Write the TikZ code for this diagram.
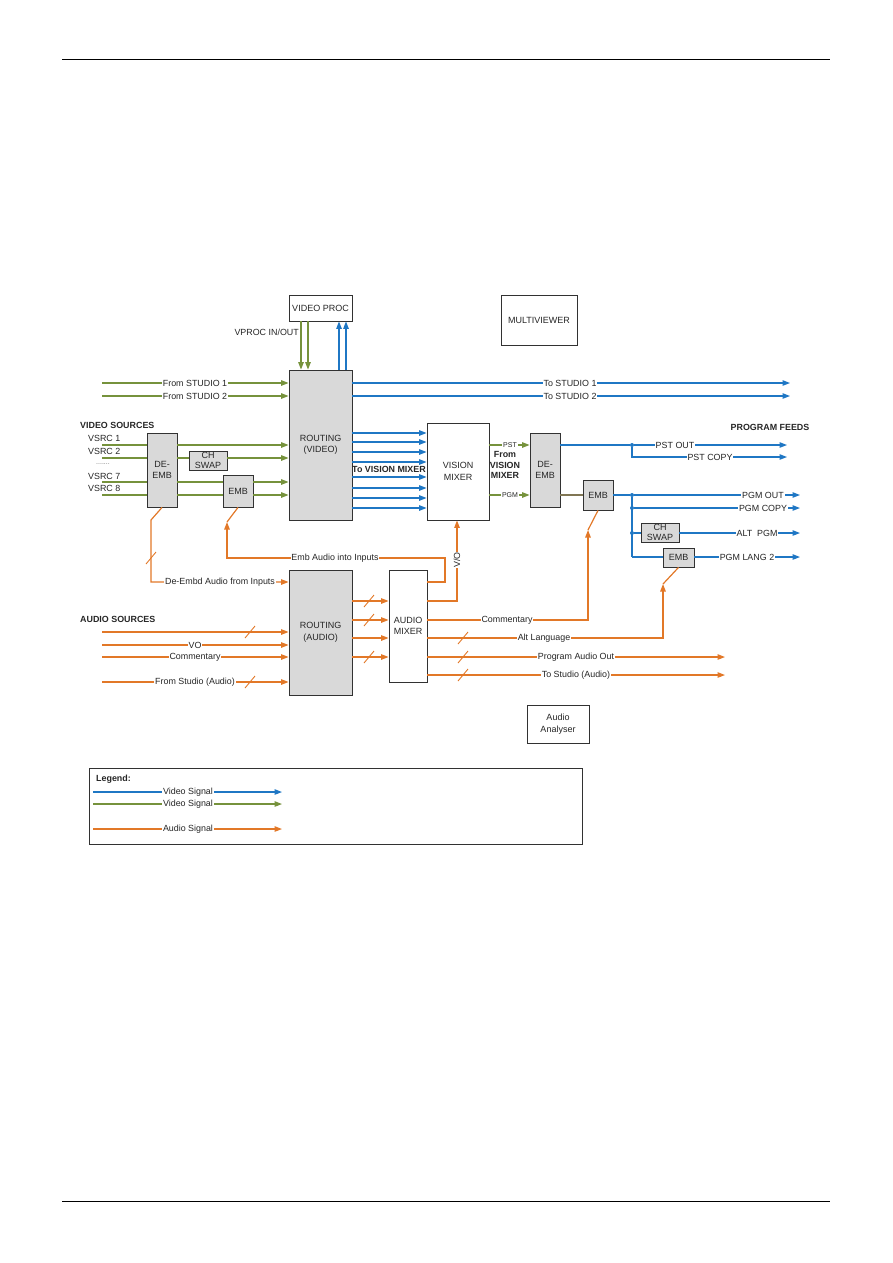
\documentclass[tikz,border=0pt]{standalone}
\usepackage{fontspec}
\setmainfont{Liberation Sans}
\usetikzlibrary{arrows.meta}
\definecolor{vblue}{RGB}{31,119,196}
\definecolor{vgreen}{RGB}{118,146,60}
\definecolor{aorange}{RGB}{226,120,40}
\definecolor{boxgray}{RGB}{217,217,217}
\definecolor{olgray}{RGB}{128,118,84}
\definecolor{boxline}{RGB}{50,50,50}
\newcommand\dfnt{\fontsize{8.9}{11.5}\selectfont}
\newcommand\bfnt{\fontsize{9}{11.5}\selectfont}
\newcommand\dsml{\fontsize{7}{8}\selectfont}
\begin{document}
\begin{tikzpicture}[x=1pt,y=-1pt,
  box/.style={draw=boxline, line width=0.9pt, fill=boxgray, inner sep=0pt, font=\bfnt, align=center, text=black!85},
  wbox/.style={box, fill=white},
  vid/.style={draw=vblue, line width=1.2pt},
  grn/.style={draw=vgreen, line width=1.2pt},
  aud/.style={draw=aorange, line width=1.2pt},
  olv/.style={draw=olgray, line width=1.2pt},
  tip/.style={-{Triangle[length=7.5pt,width=5.5pt]}},
  lab/.style={fill=white, inner sep=0.8pt, font=\dfnt, text=black!85},
  slab/.style={fill=white, inner sep=0.8pt, font=\dsml, text=black!85},
  hdr/.style={font=\dfnt\bfseries, inner sep=0pt, text=black!85},
  ptxt/.style={font=\dfnt, inner sep=0pt, text=black!85},
  jdot/.style={circle, fill=vblue, inner sep=0pt, minimum size=4pt},
  aslash/.pic={\draw[aorange, line width=0.9pt] (-5,6) -- (5,-6);}
]
\useasboundingbox (0,0) rectangle (893,1263);
% page rules
\draw[line width=1pt] (62,60) -- (830,60);
\draw[line width=1pt] (62,1201) -- (830,1201);

% ---------- boxes ----------
\node[wbox, minimum width=63pt, minimum height=26pt] (vproc) at (320.5,308) {VIDEO PROC};
\node[wbox, minimum width=76pt, minimum height=50pt] (mview) at (539,320) {MULTIVIEWER};
\node[box, minimum width=63pt, minimum height=150pt] (rvid) at (320.5,445) {ROUTING\\(VIDEO)};
\node[box, minimum width=30pt, minimum height=74pt] (demb1) at (162,470) {DE-\\EMB};
\node[box, minimum width=38pt, minimum height=19pt, font=\fontsize{9}{10}\selectfont] (chsw1) at (208,460.5) {CH\\SWAP};
\node[box, minimum width=30pt, minimum height=32pt] (emb1) at (238,491) {EMB};
\node[wbox, minimum width=62pt, minimum height=97pt] (vmix) at (458,471.5) {VISION\\MIXER};
\node[box, minimum width=30pt, minimum height=74pt] (demb2) at (545,470) {DE-\\EMB};
\node[box, minimum width=30pt, minimum height=30pt] (emb2) at (598,495) {EMB};
\node[box, minimum width=38pt, minimum height=19pt, font=\fontsize{9}{10}\selectfont] (chsw2) at (660,532.5) {CH\\SWAP};
\node[box, minimum width=31pt, minimum height=19pt] (emb3) at (678.5,557.5) {EMB};
\node[box, minimum width=63pt, minimum height=125pt] (raud) at (320.5,632.5) {ROUTING\\(AUDIO)};
\node[wbox, minimum width=38pt, minimum height=112pt] (amix) at (408,626) {AUDIO\\MIXER};
\node[wbox, minimum width=62pt, minimum height=38pt] (aan) at (558,724) {Audio\\Analyser};

% ---------- video proc ----------
\coordinate (vp1) at ([xshift=-19.5pt]vproc.south);
\coordinate (vp2) at ([xshift=-12.5pt]vproc.south);
\coordinate (vp3) at ([xshift=18.5pt]rvid.north);
\coordinate (vp4) at ([xshift=25.5pt]rvid.north);
\draw[grn,tip] (vp1) -- (vp1 |- rvid.north);
\draw[grn,tip] (vp2) -- (vp2 |- rvid.north);
\draw[vid,tip] (vp3) -- (vp3 |- vproc.south);
\draw[vid,tip] (vp4) -- (vp4 |- vproc.south);
\node[ptxt, anchor=east] at (299,332) {VPROC IN/OUT};

% ---------- studio in/out ----------
\coordinate (fs1) at (102,383);
\coordinate (fs2) at (102,396);
\draw[grn,tip] (fs1) -- (fs1 -| rvid.west);
\draw[grn,tip] (fs2) -- (fs2 -| rvid.west);
\node[lab] at (195,383) {From STUDIO 1};
\node[lab] at (195,396) {From STUDIO 2};
\coordinate (ts1) at (790,383);
\coordinate (ts2) at (790,396);
\draw[vid,tip] (ts1 -| rvid.east) -- (ts1);
\draw[vid,tip] (ts2 -| rvid.east) -- (ts2);
\node[lab] at (570,383) {To STUDIO 1};
\node[lab] at (570,396) {To STUDIO 2};

% ---------- video sources ----------
\node[hdr, anchor=west] at (80,425) {VIDEO SOURCES};
\node[ptxt, anchor=west] at (88,438) {VSRC 1};
\node[ptxt, anchor=west] at (88,451) {VSRC 2};
\node[ptxt, anchor=west, font=\dsml, text=black!55] at (96,464) {.......};
\node[ptxt, anchor=west] at (88,476) {VSRC 7};
\node[ptxt, anchor=west] at (88,488) {VSRC 8};
\coordinate (vs1) at (102,445);
\coordinate (vs2) at (102,458);
\coordinate (vs7) at (102,482);
\coordinate (vs8) at (102,495);
\draw[grn] (vs1) -- (vs1 -| demb1.west);
\draw[grn,tip] (vs1 -| demb1.east) -- (vs1 -| rvid.west);
\draw[grn] (vs2) -- (vs2 -| demb1.west);
\draw[grn] (vs2 -| demb1.east) -- (vs2 -| chsw1.west);
\draw[grn,tip] (vs2 -| chsw1.east) -- (vs2 -| rvid.west);
\draw[grn] (vs7) -- (vs7 -| demb1.west);
\draw[grn] (vs7 -| demb1.east) -- (vs7 -| emb1.west);
\draw[grn,tip] (vs7 -| emb1.east) -- (vs7 -| rvid.west);
\draw[grn] (vs8) -- (vs8 -| demb1.west);
\draw[grn] (vs8 -| demb1.east) -- (vs8 -| emb1.west);
\draw[grn,tip] (vs8 -| emb1.east) -- (vs8 -| rvid.west);

% ---------- routing -> vision mixer ----------
\foreach \yy in {433,442,452,462,477,488,498,508} {
  \coordinate (tmp) at (0,\yy);
  \draw[vid,tip] (tmp -| rvid.east) -- (tmp -| vmix.west);
}
\node[hdr] at (389,469.5) {To VISION MIXER};

% ---------- vision mixer outputs ----------
\coordinate (pst) at (0,445);
\coordinate (pgm) at (0,495);
\draw[grn,tip] (pst -| vmix.east) -- (pst -| demb2.west);
\draw[grn,tip] (pgm -| vmix.east) -- (pgm -| demb2.west);
\node[slab] at (510,445) {PST};
\node[slab] at (510,495) {PGM};
\node[hdr, align=center, font=\fontsize{8.9}{10.5}\selectfont\bfseries] at (505,465) {From\\VISION\\MIXER};
\draw[olv] (pgm -| demb2.east) -- (emb2.west);

% ---------- program feeds ----------
\node[hdr] at (770,427) {PROGRAM FEEDS};
\node[jdot] (j1) at (632,445) {};
\coordinate (po1) at (787,445);
\coordinate (po2) at (787,457);
\draw[vid] (pst -| demb2.east) -- (j1);
\draw[vid,tip] (j1) -- (po1);
\draw[vid,tip] (j1) -- (j1 |- po2) -- (po2);
\node[lab] at (675,445) {PST OUT};
\node[lab] at (710,457) {PST COPY};

\node[jdot] (j2) at (632,495) {};
\node[jdot] (j3) at (632,508) {};
\node[jdot] (j4) at (632,533) {};
\coordinate (j5) at (632,557);
\coordinate (pe1) at (800,495);
\coordinate (pe2) at (800,508);
\coordinate (pe3) at (800,533);
\coordinate (pe4) at (800,557);
\draw[vid] (emb2.east) -- (j2);
\draw[vid,tip] (j2) -- (pe1);
\draw[vid] (j2) -- (j5);
\draw[vid,tip] (j3) -- (pe2);
\draw[vid] (j4) -- (j4 -| chsw2.west);
\draw[vid,tip] (j4 -| chsw2.east) -- (pe3);
\draw[vid] (j5) -- (j5 -| emb3.west);
\draw[vid,tip] (j5 -| emb3.east) -- (pe4);
\node[lab] at (763,495) {PGM OUT};
\node[lab] at (763,508) {PGM COPY};
\node[lab] at (757,533) {ALT\ \ PGM};
\node[lab] at (747,557) {PGM LANG 2};

% ---------- embedded audio at inputs ----------
\coordinate (da1) at (151,520);
\coordinate (da2) at (151,582);
\draw[aud,tip] (demb1.south) -- (da1) -- (da2) -- (da2 -| raud.west);
\pic at (151,558) {aslash};
\node[lab] at (220,582) {De-Embd Audio from Inputs};

\coordinate (ea1) at (445,582);
\coordinate (ea2) at (445,558);
\coordinate (ea3) at (227,558);
\coordinate (ea4) at (227,522);
\draw[aud,tip] (ea1 -| amix.east) -- (ea1) -- (ea2) -- (ea3) -- (ea4);
\draw[aud] (ea4) -- (emb1.south);
\node[lab] at (335,558) {Emb Audio into Inputs};

% ---------- V/O ----------
\coordinate (vo1) at (457,601);
\draw[aud,tip] (vo1 -| amix.east) -- (vo1) -- (vo1 |- vmix.south);
\node[lab, rotate=90] at (457,560) {V/O};

% ---------- audio sources ----------
\node[hdr, anchor=west] at (80,619) {AUDIO SOURCES};
\coordinate (as1) at (102,632);
\coordinate (as2) at (102,645);
\coordinate (as3) at (102,657);
\coordinate (as4) at (102,682);
\draw[aud,tip] (as1) -- (as1 -| raud.west);
\draw[aud,tip] (as2) -- (as2 -| raud.west);
\draw[aud,tip] (as3) -- (as3 -| raud.west);
\draw[aud,tip] (as4) -- (as4 -| raud.west);
\pic at (250,632) {aslash};
\pic at (250,682) {aslash};
\node[lab] at (195,645) {VO};
\node[lab] at (195,657) {Commentary};
\node[lab] at (195,682) {From Studio (Audio)};

% ---------- routing audio -> mixer ----------
\foreach \yy in {601,620,638,657} {
  \coordinate (tmp) at (0,\yy);
  \draw[aud,tip] (tmp -| raud.east) -- (tmp -| amix.west);
}
\pic at (369,601) {aslash};
\pic at (369,620) {aslash};
\pic at (369,657) {aslash};

% ---------- audio mixer outputs ----------
\coordinate (cm1) at (588,620);
\coordinate (cm2) at (588,530);
\draw[aud,tip] (cm1 -| amix.east) -- (cm1) -- (cm2);
\draw[aud] (cm2) -- (emb2.south);
\node[lab] at (507,620) {Commentary};

\coordinate (al1) at (663,638);
\coordinate (al2) at (663,584);
\draw[aud,tip] (al1 -| amix.east) -- (al1) -- (al2);
\draw[aud] (al2) -- (emb3.south);
\node[lab] at (544,638) {Alt Language};

\coordinate (pa) at (725,657);
\coordinate (tsa) at (725,675);
\draw[aud,tip] (pa -| amix.east) -- (pa);
\draw[aud,tip] (tsa -| amix.east) -- (tsa);
\node[lab] at (576,657) {Program Audio Out};
\node[lab] at (576,675) {To Studio (Audio)};
\pic at (463,638) {aslash};
\pic at (463,657) {aslash};
\pic at (463,675) {aslash};

% ---------- legend ----------
\node[draw=boxline, line width=0.7pt, minimum width=493pt, minimum height=76pt, inner sep=0pt] (leg) at (335.5,806) {};
\node[hdr, anchor=west] at (96,779) {Legend:};
\coordinate (lg1) at (93,792);
\coordinate (lg1e) at (282,792);
\coordinate (lg2) at (93,804);
\coordinate (lg2e) at (282,804);
\coordinate (lg3) at (93,829);
\coordinate (lg3e) at (282,829);
\draw[vid,tip] (lg1) -- (lg1e);
\draw[grn,tip] (lg2) -- (lg2e);
\draw[aud,tip] (lg3) -- (lg3e);
\node[lab] at (188,792) {Video Signal};
\node[lab] at (188,804) {Video Signal};
\node[lab] at (188,829) {Audio Signal};
\end{tikzpicture}
\end{document}
